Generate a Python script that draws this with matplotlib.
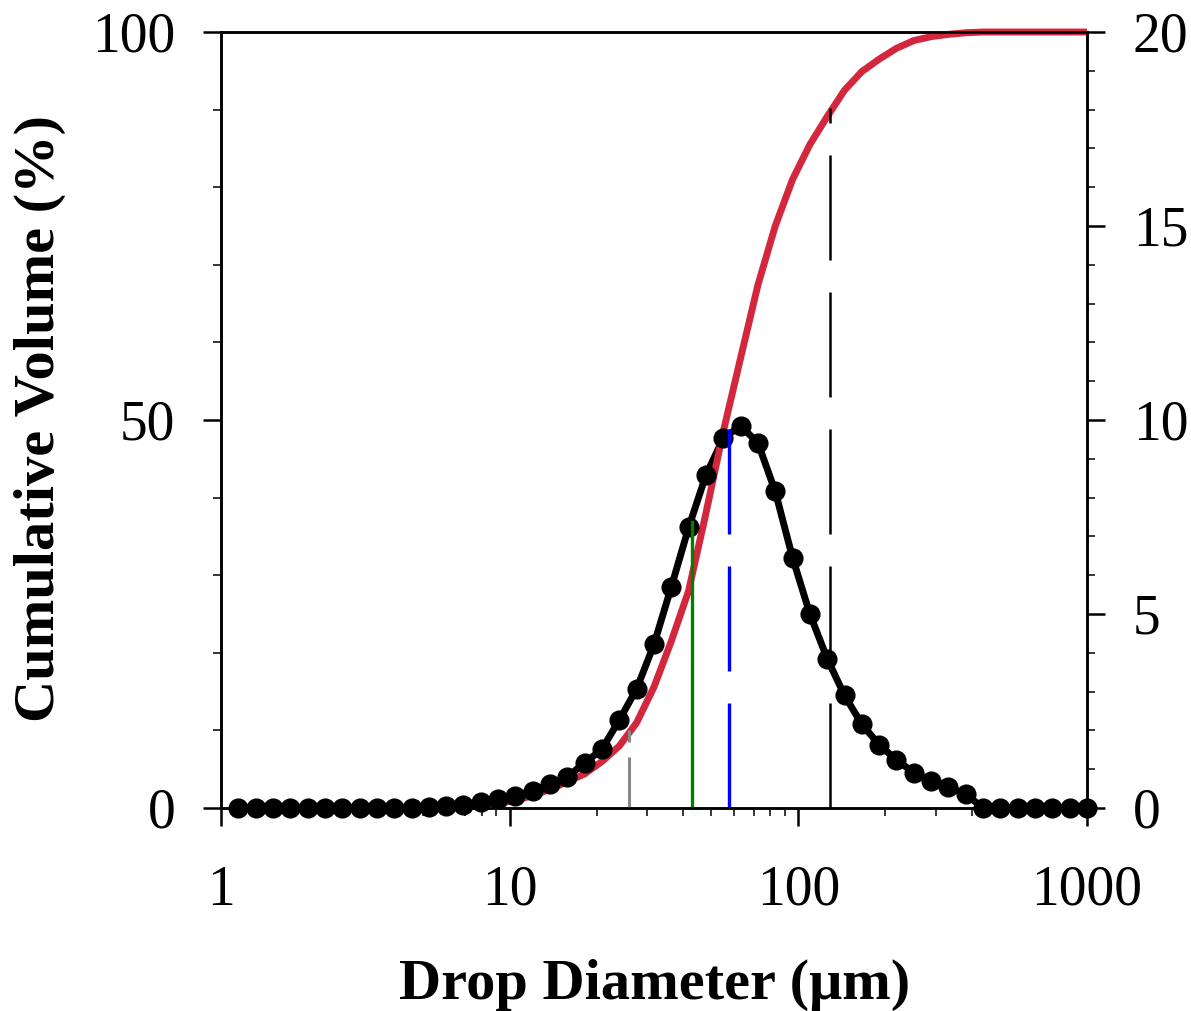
import matplotlib
matplotlib.use("Agg")
import matplotlib.pyplot as plt
from matplotlib.ticker import FixedLocator, NullFormatter, MultipleLocator
import numpy as np

plt.rcParams['font.family'] = ['Liberation Serif', 'DejaVu Serif']

# bin index k -> diameter 10**(0.06*k), k = 1..50 (1.15 um .. 1000 um)
bin_k = np.arange(1, 51)
diam = 10 ** (0.06 * bin_k)

# volume frequency (%), right axis
freq = [0, 0, 0, 0, 0, 0, 0, 0, 0, 0,
        0, 0.02, 0.05, 0.08, 0.16, 0.23, 0.31, 0.45, 0.61, 0.81,
        1.16, 1.52, 2.27, 3.07, 4.22, 5.70, 7.23, 8.58, 9.53, 9.85,
        9.41, 8.16, 6.45, 5.00, 3.85, 2.90, 2.16, 1.63, 1.24, 0.91,
        0.70, 0.53, 0.36, 0, 0, 0, 0, 0, 0, 0]

# cumulative volume (%), left axis
cumvol = [0, 0, 0, 0, 0, 0, 0, 0, 0, 0,
          0, 0.05, 0.1, 0.2, 0.4, 0.6, 1.0, 1.6, 2.4, 3.4,
          4.4, 6.0, 8.0, 11.0, 15.6, 21.5, 28.0, 38.0, 48.5, 58.0,
          67.4, 75.0, 81.0, 85.5, 89.1, 92.5, 94.9, 96.5, 97.9, 98.9,
          99.4, 99.7, 99.9, 100, 100, 100, 100, 100, 100, 100]

# characteristic diameters and heights of the marker lines (left axis %)
d10, d10_h = 26.0, 10.0
dmean, dmean_h = 42.9, 36.9
d50, d50_h = 57.3, 48.9
d90, d90_h = 128.8, 90.2

fig = plt.figure(figsize=(11.91, 10.11), dpi=100)
ax = fig.add_axes([221/1191, 1-808/1011, 866/1191, 776/1011])
ax2 = ax.twinx()

ax.set_xscale('log')
ax.set_xlim(1, 1000)
ax.set_ylim(0, 100)
ax2.set_ylim(0, 20)

# frequency curve uses the right-axis scale; drawn on ax so layering works
ax.plot(diam, freq, color='black', lw=5, transform=ax2.transData,
        clip_on=False, zorder=2)
ax.plot(diam, cumvol, color='#D3273E', lw=5, clip_on=False, zorder=3,
        solid_capstyle='butt')
ax.plot(diam, freq, color='black', lw=0, marker='o', ms=13.5,
        transform=ax2.transData, clip_on=False, zorder=4)

ax.plot([d10, d10], [0, d10_h], color='#888888', lw=2.2, dashes=(16.7, 4.9), zorder=5)
ax.plot([dmean, dmean], [0, dmean_h], color='#008000', lw=2.4, zorder=5)
ax.plot([d50, d50], [0, d50_h], color='#0000FF', lw=2.4, dashes=(31.5, 9.6), zorder=5)
ax.plot([d90, d90], [0, d90_h], color='black', lw=1.8, dashes=(42, 12.8), zorder=5)

ax.set_xlim(1, 1000)
ax.set_ylim(0, 100)

ax.xaxis.set_major_locator(FixedLocator([1, 10, 100, 1000]))
ax.set_xticklabels(['1', '10', '100', '1000'])
minors = [m * 10 ** e for e in range(0, 3) for m in range(2, 10)]
ax.xaxis.set_minor_locator(FixedLocator(minors))
ax.xaxis.set_minor_formatter(NullFormatter())
ax.yaxis.set_major_locator(FixedLocator([0, 50, 100]))
ax.yaxis.set_minor_locator(MultipleLocator(10))
ax2.yaxis.set_major_locator(FixedLocator([0, 5, 10, 15, 20]))
ax2.yaxis.set_minor_locator(MultipleLocator(1))

for a in (ax, ax2):
    for s in a.spines.values():
        s.set_linewidth(1.8)
    a.tick_params(which='major', direction='out', length=13, width=1.8, labelsize=40)
    a.tick_params(which='minor', direction='out', length=6, width=1.1)
ax.tick_params(axis='x', which='major', pad=28)
ax.tick_params(axis='y', which='major', pad=20)
ax2.tick_params(axis='y', which='major', pad=20)
ax.tick_params(top=False, which='both')

fig.text(0.55, 1 - 985/1011, 'Drop Diameter (\u03bcm)', ha='center', va='center',
         fontsize=42, fontweight='bold')
fig.text(40/1191, 1 - 419/1011, 'Cumulative Volume (%)', ha='center', va='center',
         rotation=90, fontsize=42, fontweight='bold')

fig.savefig('out.png', dpi=100)
